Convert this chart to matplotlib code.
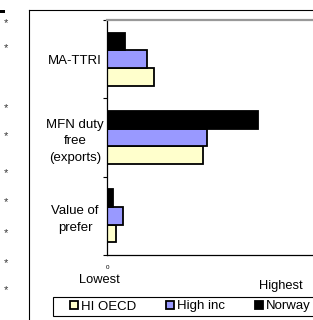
"""Horizontal bar excerpt: Norway vs high income groups (Lowest -> Highest)."""

import numpy as np
import matplotlib.pyplot as plt
from matplotlib.lines import Line2D
from matplotlib.patches import Rectangle

plt.rcParams['font.family'] = ['Liberation Sans', 'DejaVu Sans']

W, H = 313, 320

# categories, bottom to top
CATEGORIES = ["Value of\nprefer", "MFN duty\nfree\n(exports)", "MA-TTRI"]
HI_OECD = [4.1, 43.6, 21.4]
HIGH_INC = [7.3, 45.5, 18.2]
NORWAY = [2.7, 68.6, 8.2]
SERIES_NAMES = ["HI OECD", "High inc", "Norway"]
COLORS = ["#FFFFCC", "#9999FF", "#000000"]

STAR_Y = [23, 48, 108, 136, 173, 202, 233, 263, 290]  # px from top


def fx(px):
    return px / W


def fy(py):
    return 1 - py / H


fig = plt.figure(figsize=(W / 100, H / 100), dpi=100)

ax = fig.add_axes([fx(107), fy(255), 220 / W, 235 / H])

y = np.arange(len(CATEGORIES))
bh = 0.225
bars = []
for off, vals, col, name in zip([-bh, 0, bh], [HI_OECD, HIGH_INC, NORWAY], COLORS, SERIES_NAMES):
    b = ax.barh(y + off, vals, height=bh, color=col, edgecolor='black', linewidth=1.3, label=name)
    bars.append(b)

ax.set_xlim(0, 100)
ax.set_ylim(-0.5, 2.5)

ax.set_yticks([-0.5, 0.5, 1.5, 2.5])
ax.set_yticklabels([])
ax.tick_params(axis='y', which='major', length=3, width=0.8, direction='out')
ax.set_yticks(y, CATEGORIES, minor=True)
ax.tick_params(axis='y', which='minor', length=0, pad=23, labelsize=9.5)
for lbl in ax.get_yticklabels(minor=True):
    lbl.set_ha('center')
    lbl.set_linespacing(1.5)

ax.set_xticks([0])
ax.set_xticklabels(["0"])
ax.tick_params(axis='x', length=0, pad=7, labelsize=4.5)

ax.spines['right'].set_visible(False)
ax.spines['top'].set_color('#999999')
ax.spines['top'].set_linewidth(1.6)
ax.spines['left'].set_linewidth(0.9)
ax.spines['bottom'].set_linewidth(0.9)

fig.text(fx(99), fy(280), "Lowest", ha='center', va='center', fontsize=9.3)
fig.text(fx(281), fy(286), "Highest", ha='center', va='center', fontsize=9.3)

# outer chart frame (cropped)
fig.add_artist(Line2D([fx(29), fx(29)], [0, fy(10)], color='black', lw=0.8))
fig.add_artist(Line2D([fx(29), 1], [fy(10), fy(10)], color='black', lw=0.8))
fig.add_artist(Rectangle((0, fy(13)), fx(5), 3 / H, color='black', lw=0))

for sy in STAR_Y:
    fig.text(fx(5.5), fy(sy), "*", ha='center', va='center', fontsize=8, color='#333333')

# legend box (cropped on the right)
fig.add_artist(Rectangle((fx(53), fy(316)), fx(300), 19 / H, facecolor='white',
                         edgecolor='black', lw=0.8))
leg = fig.legend(handles=bars, labels=SERIES_NAMES, ncol=3, loc='center left',
                 bbox_to_anchor=(fx(70), fy(306.5)), fontsize=9.5, frameon=False,
                 handlelength=0.6, handleheight=0.6, handletextpad=0.2,
                 borderpad=0, borderaxespad=0, columnspacing=2.3)

fig.savefig('out.png', dpi=100)
